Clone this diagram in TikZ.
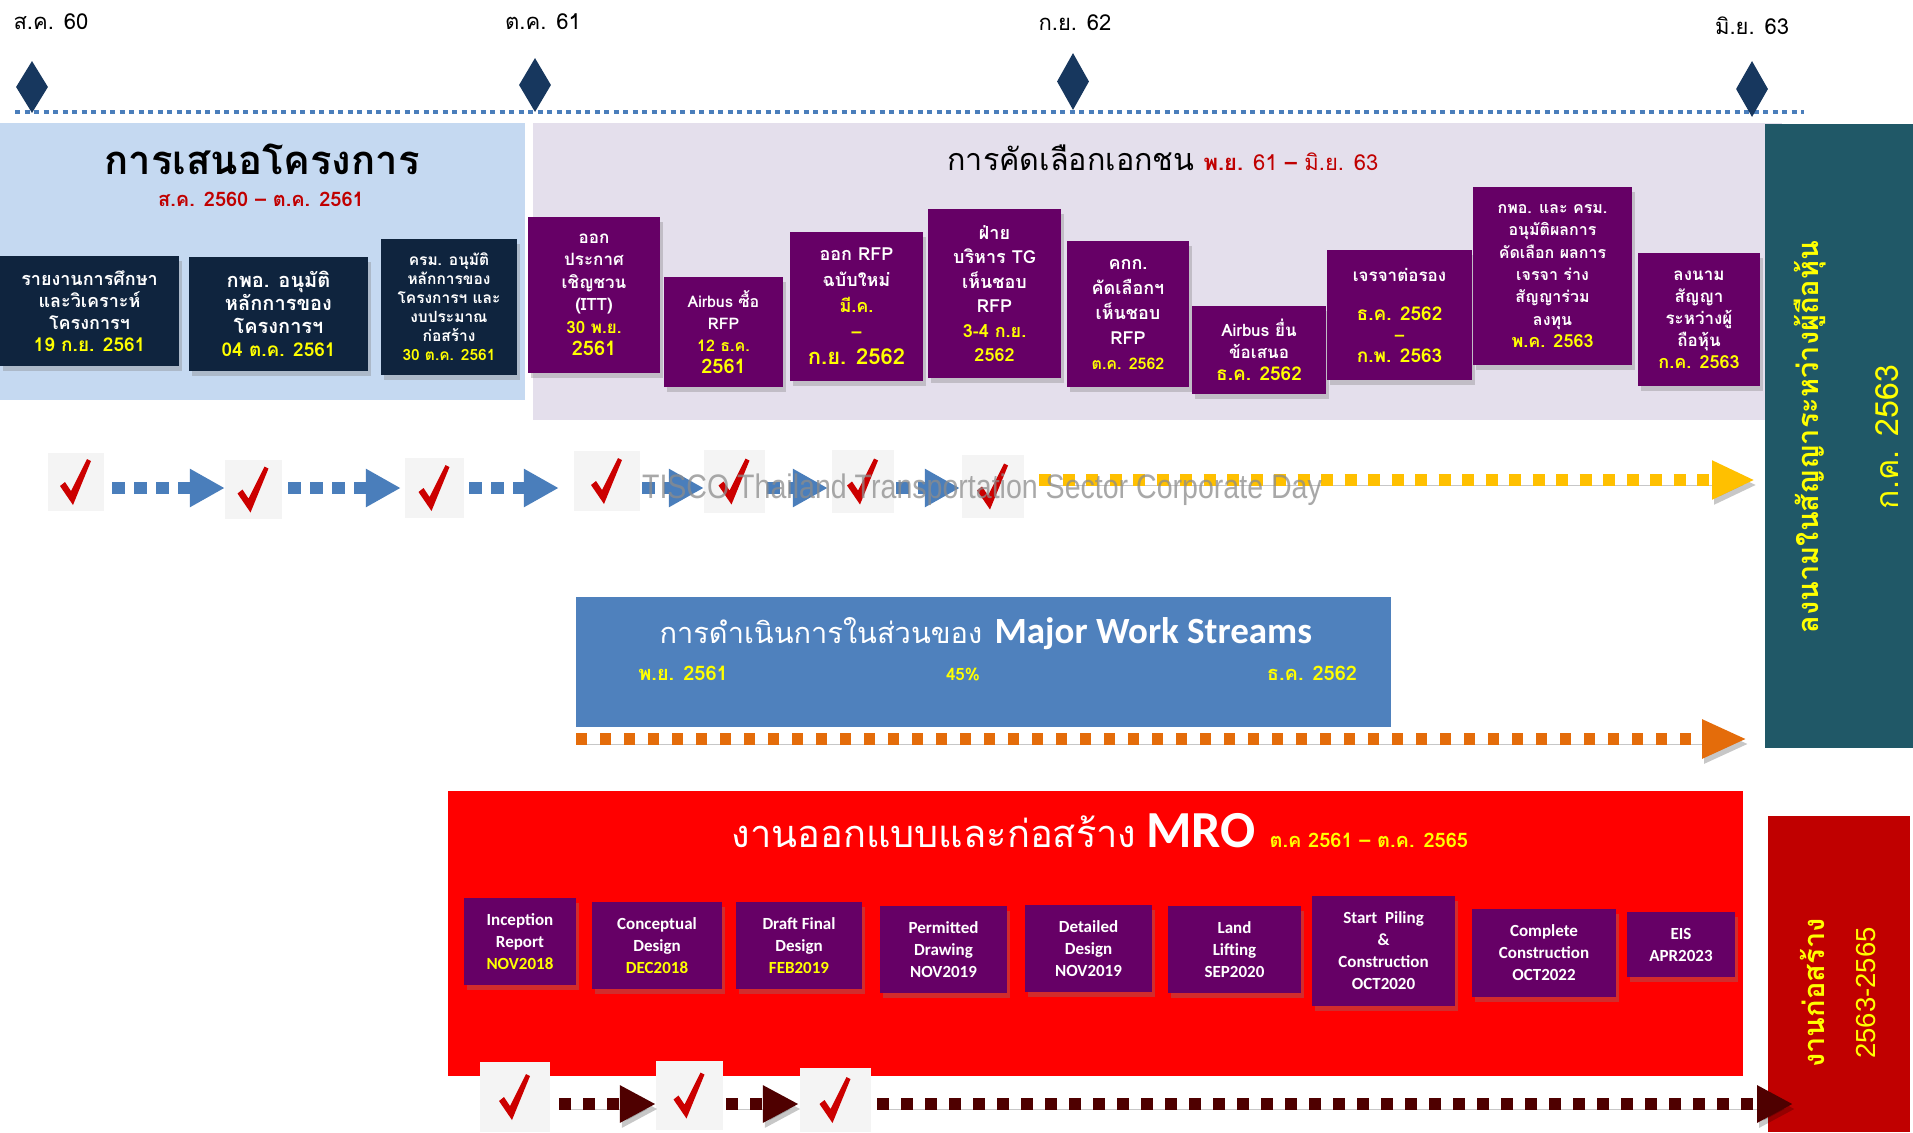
\documentclass[tikz,border=0pt]{standalone}
\usepackage{fontspec}
\setmainfont{Liberation Sans}
\newfontfamily\thaif[Script=Thai]{Loma}
\newfontfamily\calf{Carlito}
\usetikzlibrary{shapes.geometric,arrows.meta,shadows}
\definecolor{navybox}{HTML}{0F243E}
\definecolor{purp}{HTML}{660066}
\definecolor{bluepanel}{HTML}{C5D9F1}
\definecolor{lavpanel}{HTML}{E4DFEC}
\definecolor{tealpanel}{HTML}{205867}
\definecolor{mwsblue}{HTML}{4F81BD}
\definecolor{redpanel}{HTML}{FF0000}
\definecolor{darkred}{HTML}{C00000}
\definecolor{yel}{HTML}{FFFF00}
\definecolor{arrblue}{HTML}{4A7EBB}
\definecolor{arryel}{HTML}{FFC000}
\definecolor{arrorange}{HTML}{E46C0A}
\definecolor{arrmaroon}{HTML}{4F0000}
\definecolor{diam}{HTML}{17375E}
\definecolor{chkbg}{HTML}{F4F4F4}
\definecolor{chkred}{HTML}{CC0000}
\newcommand\yl[1]{\textcolor{yel}{#1}}
\tikzset{
  panel/.style={inner sep=0pt, outer sep=0pt},
  nbox/.style={fill=navybox, text=white, inner sep=0pt, align=center,
     drop shadow={shadow xshift=3pt, shadow yshift=-5pt, opacity=0.35}},
  pbox/.style={fill=purp, text=white, inner sep=0pt, align=center,
     drop shadow={shadow xshift=3pt, shadow yshift=-5pt, opacity=0.35}},
  mrob/.style={fill=purp, text=white, inner sep=0pt, align=center,
     font=\calf\bfseries\fontsize{17}{22}\selectfont,
     drop shadow={shadow xshift=3pt, shadow yshift=-5pt, opacity=0.35}},
  tick/.style={fill=diam, diamond, inner sep=0pt, minimum width=32pt},
  chk/.style={fill=chkbg, inner sep=0pt,
     path picture={\fill[chkred, shift={(path picture bounding box.center)}, scale=#1]
       (-16,4) -- (-11,0) -- (-5,9) -- (11,-23) -- (15,-21) -- (-3,23) -- cycle;}},
  shad/.style={preaction={draw=black, opacity=0.22, transform canvas={shift={(2pt,-5pt)}}}},
  bluearr/.style={draw=arrblue, line width=12pt, dash pattern=on 13pt off 9pt,
     -{Triangle[length=35pt,width=36pt]}},
  yelarr/.style={draw=arryel, line width=12pt, dash pattern=on 12pt off 11.5pt,
     -{Triangle[length=43pt,width=36pt]}},
  orarr/.style={draw=arrorange, line width=12pt, dash pattern=on 11pt off 13pt,
     -{Triangle[length=45pt,width=36pt]}},
  marr/.style={draw=arrmaroon, line width=12pt, dash pattern=on 12pt off 12pt,
     -{Triangle[length=36pt,width=35pt]}},
}
\begin{document}
\begin{tikzpicture}[x=1pt,y=-1pt]
\useasboundingbox (0,0) rectangle (1913,1132);
\fill[white] (0,0) rectangle (1913,1132);

% timeline
\node[font=\thaif\fontsize{22}{24}\selectfont, anchor=west] (l1) at (10,22) {ส.ค. 60};
\node[font=\thaif\fontsize{22}{24}\selectfont] (l2) at (543,22) {ต.ค. 61};
\node[font=\thaif\fontsize{22}{24}\selectfont] (l3) at (1075,23) {ก.ย. 62};
\node[font=\thaif\fontsize{22}{24}\selectfont] (l4) at (1752,26) {มิ.ย. 63};
\coordinate (tl1) at (15,112);
\coordinate (tl2) at (1804,112);
\draw[arrblue, line width=4pt, dash pattern=on 5pt off 4.5pt] (tl1) -- (tl2);
\node[tick, minimum height=52pt] (d1) at (32,87) {};
\node[tick, minimum height=54pt] (d2) at (535,85) {};
\node[tick, minimum height=57pt] (d3) at (1073,81.5) {};
\node[tick, minimum height=56pt] (d4) at (1752,89) {};

% panels
\node[panel, fill=bluepanel, minimum width=525pt, minimum height=277pt] (bp) at (262.5,261.5) {};
\node[panel, fill=lavpanel, minimum width=1249pt, minimum height=297pt] (lp) at (1157.5,271.5) {};
\node[panel, fill=tealpanel, minimum width=148pt, minimum height=624pt] (tp) at (1839,436) {};

% blue panel content
\node[font=\thaif\bfseries\fontsize{40}{42}\selectfont, anchor=base] (bpt) at (262,174) {การเสนอโครงการ};
\node[font=\thaif\bfseries\fontsize{20}{22}\selectfont, text=darkred, anchor=base] (bps) at (261,206) {ส.ค. 2560 – ต.ค. 2561};
\node[nbox, font=\thaif\bfseries\fontsize{18}{22}\selectfont, minimum width=179pt, minimum height=110pt] (n1) at (89.5,311)
  {รายงานการศึกษา\\และวิเคราะห์\\โครงการฯ\\\yl{\fontsize{19}{22}\selectfont 19 ก.ย. 2561}};
\node[nbox, font=\thaif\bfseries\fontsize{20}{23}\selectfont, minimum width=179pt, minimum height=114pt] (n2) at (278.5,314)
  {กพอ. อนุมัติ\\หลักการของ\\โครงการฯ\\\yl{\fontsize{19}{23}\selectfont 04 ต.ค. 2561}};
\node[nbox, font=\thaif\bfseries\fontsize{15.5}{19}\selectfont, minimum width=136pt, minimum height=136pt] (n3) at (449,307)
  {ครม. อนุมัติ\\หลักการของ\\โครงการฯ และ\\งบประมาณ\\ก่อสร้าง\\\yl{30 ต.ค. 2561}};

% lavender panel content
\node[font=\thaif\fontsize{30.5}{33}\selectfont, anchor=base west] (lpt) at (944,170) {การคัดเลือกเอกชน};
\node[font=\thaif\fontsize{22}{24}\selectfont, text=darkred, anchor=base west] (lps) at (1200,170) {\textbf{พ.ย.} 61 \textbf{–} มิ.ย. 63};
\node[pbox, font=\thaif\bfseries\fontsize{17}{22.5}\selectfont, minimum width=132pt, minimum height=156pt] (pa) at (594,295)
  {ออก\\ประกาศ\\เชิญชวน\\(ITT)\\\yl{30 พ.ย.}\\\yl{\fontsize{20}{22.5}\selectfont 2561}};
\node[pbox, font=\thaif\bfseries\fontsize{16}{22}\selectfont, minimum width=119pt, minimum height=110pt] (pb) at (723.5,332)
  {Airbus ซื้อ\\RFP\\\yl{12 ธ.ค.}\\\yl{\fontsize{20}{22}\selectfont 2561}};
\node[pbox, font=\thaif\bfseries\fontsize{18}{26}\selectfont, minimum width=133pt, minimum height=149pt] (pc) at (856.5,306.5)
  {ออก RFP\\ฉบับใหม่\\\yl{มี.ค.}\\\yl{–}\\\yl{\fontsize{22}{26}\selectfont ก.ย. 2562}};
\node[pbox, font=\thaif\bfseries\fontsize{18}{24.5}\selectfont, minimum width=133pt, minimum height=169pt] (pd) at (994.5,293.5)
  {ฝ่าย\\บริหาร TG\\เห็นชอบ\\RFP\\\yl{3-4 ก.ย.}\\\yl{2562}};
\node[pbox, font=\thaif\bfseries\fontsize{18}{25}\selectfont, minimum width=122pt, minimum height=146pt] (pe) at (1128,314)
  {คกก.\\คัดเลือกฯ\\เห็นชอบ\\RFP\\\yl{\fontsize{16}{25}\selectfont ต.ค. 2562}};
\node[pbox, font=\thaif\bfseries\fontsize{17}{22}\selectfont, minimum width=134pt, minimum height=88pt] (pf) at (1259,350)
  {Airbus ยื่น\\ข้อเสนอ\\\yl{\fontsize{19}{22}\selectfont ธ.ค. 2562}};
\node[pbox, font=\thaif\bfseries\fontsize{17}{21}\selectfont, minimum width=145pt, minimum height=130pt] (pg) at (1399.5,315)
  {เจรจาต่อรอง\\[18pt]\yl{\fontsize{19}{21}\selectfont ธ.ค. 2562}\\\yl{–}\\\yl{\fontsize{19}{21}\selectfont ก.พ. 2563}};
\node[pbox, font=\thaif\bfseries\fontsize{16}{22.3}\selectfont, minimum width=159pt, minimum height=178pt] (ph) at (1552.5,276)
  {กพอ. และ ครม.\\อนุมัติผลการ\\คัดเลือก ผลการ\\เจรจา ร่าง\\สัญญาร่วม\\ลงทุน\\\yl{\fontsize{18}{22.3}\selectfont พ.ค. 2563}};
\node[pbox, font=\thaif\bfseries\fontsize{17}{22}\selectfont, minimum width=122pt, minimum height=133pt] (pi) at (1699,319.5)
  {ลงนาม\\สัญญา\\ระหว่างผู้\\ถือหุ้น\\\yl{\fontsize{18}{22}\selectfont ก.ค. 2563}};

% teal panel text
\node[rotate=90, inner sep=0pt, text=yel, font=\thaif\bfseries\fontsize{29}{32}\selectfont] (tt1) at (1810,437) {ลงนามในสัญญาระหว่างผู้ถือหุ้น};
\node[rotate=90, inner sep=0pt, text=yel, font=\thaif\fontsize{32}{34}\selectfont] (tt2) at (1887,437) {ก.ค. 2563};

% checks row 1
\node[chk=1, minimum width=56pt, minimum height=58pt] (c1) at (76,482) {};
\node[chk=1, minimum width=57pt, minimum height=59pt] (c2) at (253.5,489.5) {};
\node[chk=1, minimum width=59pt, minimum height=60pt] (c3) at (434.5,488) {};
\node[chk=1, minimum width=66pt, minimum height=60pt] (c4) at (607,481) {};
\node[chk=1, minimum width=61pt, minimum height=63pt] (c5) at (734.5,481.5) {};
\node[chk=1, minimum width=62pt, minimum height=63pt] (c6) at (863,481.5) {};
\node[chk=1, minimum width=62pt, minimum height=63pt] (c7) at (993,486.5) {};
\coordinate (r1) at (0,488);
\coordinate (r1y) at (0,480);
\coordinate (yend) at (1755,480);
\draw[bluearr, shorten <=8pt] (c1.east |- r1) -- (c2.west |- r1);
\draw[bluearr, shorten <=6pt, shorten >=4pt] (c2.east |- r1) -- (c3.west |- r1);
\draw[bluearr, shorten <=5pt, shorten >=15pt] (c3.east |- r1) -- (c4.west |- r1);
\draw[bluearr, shorten <=2pt] (c4.east |- r1) -- (c5.west |- r1);
\draw[bluearr, shorten <=2pt, shorten >=4pt] (c5.east |- r1) -- (c6.west |- r1);
\draw[bluearr, shorten <=2pt, shorten >=2pt] (c6.east |- r1) -- (c7.west |- r1);
\draw[yelarr, shad, shorten <=15pt] (c7.east |- r1y) -- (yend);
\node[text=black!45, opacity=0.75, font=\fontsize{34}{36}\selectfont, xscale=0.84, anchor=base] (wm) at (982,498) {TISCO Thailand Transportation Sector Corporate Day};

% major work streams
\node[panel, fill=mwsblue, minimum width=815pt, minimum height=130pt] (mws) at (983.5,662) {};
\node[text=white, font=\thaif\fontsize{29}{32}\selectfont, anchor=base west] (mwst) at (656,643) {การดำเนินการในส่วนของ};
\node[text=white, font=\calf\bfseries\fontsize{37}{40}\selectfont, anchor=base west] (mwse) at (991,643) {Major Work Streams};
\node[text=yel, font=\thaif\bfseries\fontsize{20}{22}\selectfont, anchor=base] (mw1) at (683,680) {พ.ย. 2561};
\node[text=yel, font=\thaif\bfseries\fontsize{17}{22}\selectfont, anchor=base] (mw2) at (963,680) {45\%};
\node[text=yel, font=\thaif\bfseries\fontsize{20}{22}\selectfont, anchor=base] (mw3) at (1312,680) {ธ.ค. 2562};
\coordinate (ostart) at (576,739);
\coordinate (oend) at (1747,739);
\draw[orarr, shad] (ostart) -- (oend);

% MRO
\node[panel, fill=redpanel, minimum width=1295pt, minimum height=285pt] (mro) at (1095.5,933.5) {};
\node[panel, fill=darkred, minimum width=142pt, minimum height=316pt] (drp) at (1839,974) {};
\node[text=white, font=\thaif\fontsize{38}{40}\selectfont, anchor=base west] (mrot) at (728,847) {งานออกแบบและก่อสร้าง};
\node[text=white, font=\calf\bfseries\fontsize{52}{54}\selectfont, anchor=base west] (mroe) at (1143,847) {MRO};
\node[text=yel, font=\thaif\bfseries\fontsize{20}{22}\selectfont, anchor=base west] (mrod) at (1266,847) {ต.ค 2561 – ต.ค. 2565};
\node[mrob, minimum width=112pt, minimum height=87pt] (m1) at (520,941.5) {Inception\\Report\\\yl{NOV2018}};
\node[mrob, minimum width=130pt, minimum height=87pt] (m2) at (657,945.5) {Conceptual\\Design\\\yl{DEC2018}};
\node[mrob, minimum width=126pt, minimum height=87pt] (m3) at (799,945.5) {Draft Final\\Design\\\yl{FEB2019}};
\node[mrob, minimum width=127pt, minimum height=87pt] (m4) at (943.5,949.5) {Permitted\\Drawing\\NOV2019};
\node[mrob, minimum width=127pt, minimum height=87pt] (m5) at (1088.5,948.5) {Detailed\\Design\\NOV2019};
\node[mrob, minimum width=133pt, minimum height=87pt] (m6) at (1234.5,949.5) {Land\\Lifting\\SEP2020};
\node[mrob, minimum width=143pt, minimum height=110pt] (m7) at (1383.5,951) {Start\ \ Piling\\\&\\Construction\\OCT2020};
\node[mrob, minimum width=144pt, minimum height=88pt] (m8) at (1544,953) {Complete\\Construction\\OCT2022};
\node[mrob, minimum width=108pt, minimum height=65pt] (m9) at (1681,944.5) {EIS\\APR2023};
\node[rotate=90, inner sep=0pt, text=yel, font=\thaif\bfseries\fontsize{29}{32}\selectfont] (dr1) at (1812,993) {งานก่อสร้าง};
\node[rotate=90, inner sep=0pt, text=yel, font=\fontsize{27.5}{30}\selectfont] (dr2) at (1866,993) {2563-2565};

% checks row 2
\node[chk=1.25, minimum width=70pt, minimum height=70pt] (e1) at (515,1097) {};
\node[chk=1.25, minimum width=67pt, minimum height=69pt] (e2) at (689.5,1095.5) {};
\node[chk=1.25, minimum width=71pt, minimum height=64pt] (e3) at (835.5,1100) {};
\coordinate (r2) at (0,1104);
\coordinate (mend) at (1793,1104);
\draw[marr, shad, shorten <=9pt] (e1.east |- r2) -- (e2.west |- r2);
\draw[marr, shad, shorten <=3pt, shorten >=1pt] (e2.east |- r2) -- (e3.west |- r2);
\draw[marr, shad, shorten <=6pt] (e3.east |- r2) -- (mend);
\end{tikzpicture}
\end{document}
